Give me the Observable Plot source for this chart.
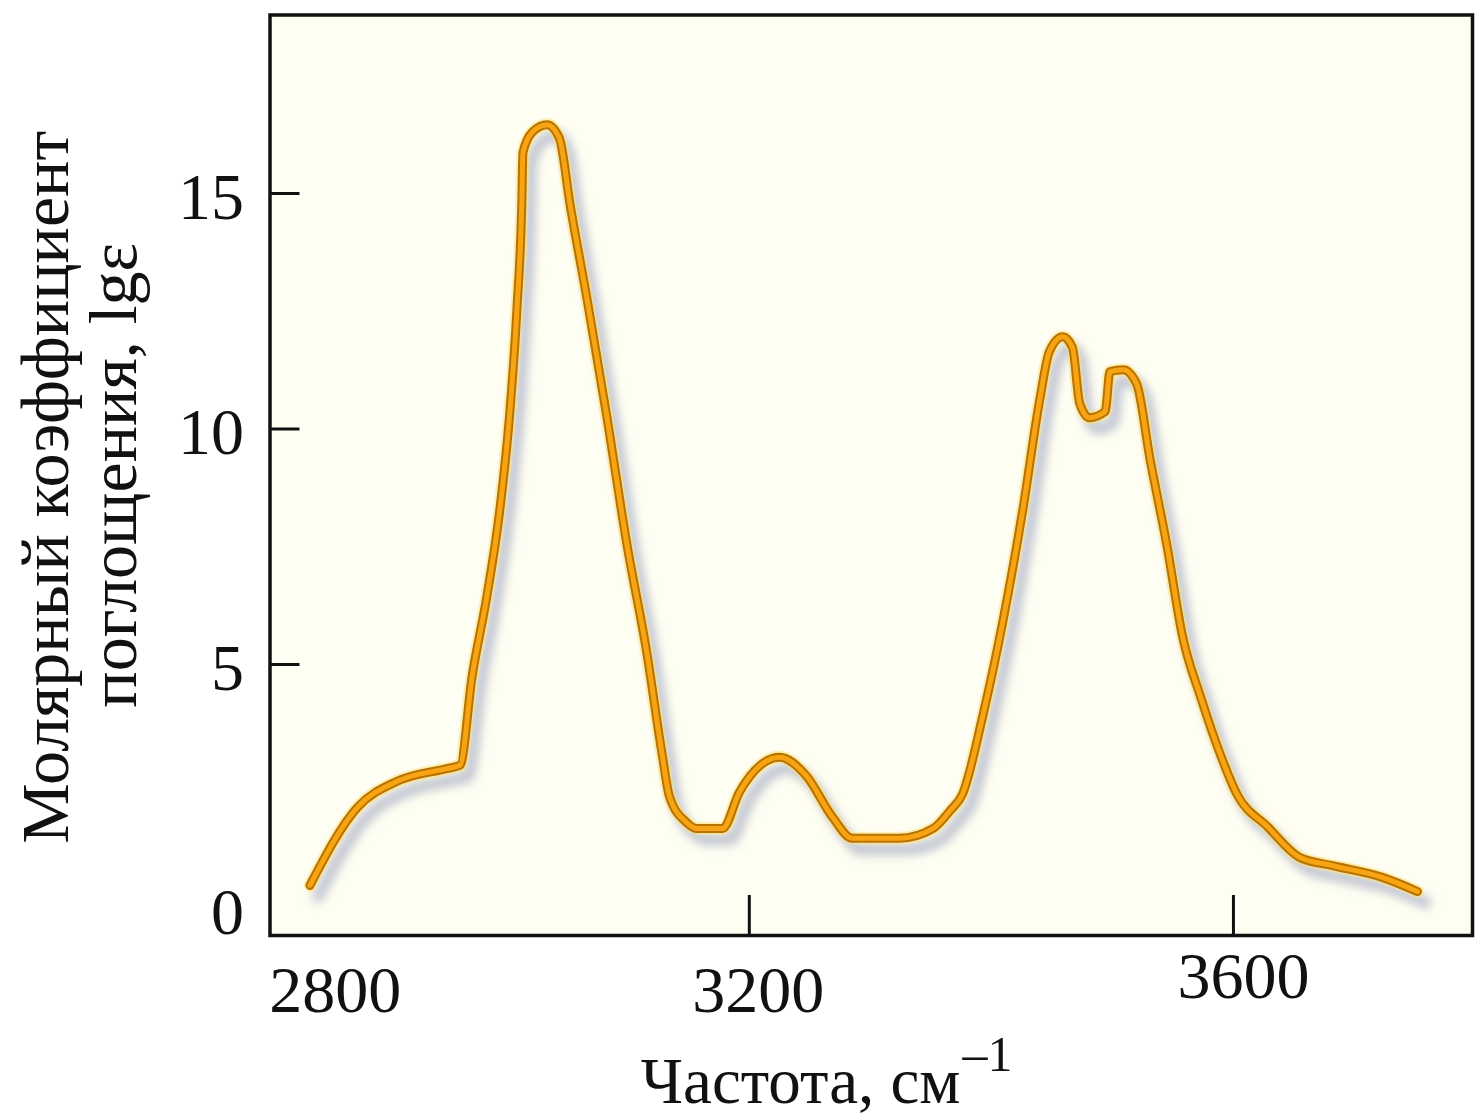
<!DOCTYPE html>
<html>
<head>
<meta charset="utf-8">
<script src="https://cdn.jsdelivr.net/npm/d3@7"></script>
<script src="https://cdn.jsdelivr.net/npm/@observablehq/plot@0.6"></script>
<style>
  html, body { margin: 0; padding: 0; background: #ffffff; }
  #chart svg { display: block; }
</style>
</head>
<body>
<div id="chart"></div>
<script>
// ---- data ----
const wavenumber = [
  2837, 2876, 2909, 2950, 2961, 2971, 2983, 2994, 3002, 3008,
  3012, 3013, 3021, 3033, 3043, 3052, 3066, 3082, 3099, 3115,
  3128, 3134, 3148, 3156, 3178, 3192, 3225, 3247, 3269, 3285,
  3324, 3352, 3366, 3376, 3393, 3409, 3426, 3440, 3448, 3459,
  3467, 3473, 3481, 3494, 3498, 3509, 3520, 3531, 3545, 3558,
  3573, 3589, 3603, 3628, 3655, 3682, 3723, 3752
];
const absorbance = [
  0.31, 1.96, 2.52, 2.79, 2.86, 4.75, 6.42, 8.31, 10.31, 12.54,
  14.75, 15.87, 16.31, 16.46, 16.18, 14.75, 12.75, 10.31, 7.53, 5.30,
  3.09, 2.20, 1.65, 1.52, 1.52, 2.30, 3.03, 2.64, 1.75, 1.31,
  1.31, 1.52, 1.90, 2.24, 3.92, 5.85, 8.29, 10.63, 11.65, 11.96,
  11.73, 10.54, 10.24, 10.37, 11.22, 11.26, 10.96, 9.37, 7.53, 5.59,
  4.30, 3.10, 2.24, 1.56, 0.90, 0.73, 0.48, 0.18
];
const xTicks = [2800, 3200, 3600];
const yTicks = [0, 5, 10, 15];
const xLabel = "Частота, см";
const xLabelSup = "–1";
const yLabelLine1 = "Молярный коэффициент";
const yLabelLine2 = "поглощения, lgε";

// ---- chart ----
const data = wavenumber.map((x, i) => ({x, y: absorbance[i]}));
const W = 1484, H = 1120;
const mL = 269.5, mT = 14.5, mR = 12, mB = 185;
const innerW = W - mL - mR, innerH = H - mT - mB;
const font = "'Liberation Serif', 'Times New Roman', serif";
const curve = "monotone-x";
const tickFont = 66;

const marks = [
  Plot.frame({fill: "#fffef2"}),
  // soft shadow
  Plot.line(data, {x: "x", y: "y", curve, stroke: "#9aa2bc", strokeWidth: 12, strokeOpacity: 0.6, dx: 8, dy: 11}),
  // glow, rim, core
  Plot.line(data, {x: "x", y: "y", curve, stroke: "#ffe27a", strokeWidth: 13, strokeOpacity: 0.55}),
  Plot.line(data, {x: "x", y: "y", curve, stroke: "#b87200", strokeWidth: 9}),
  Plot.line(data, {x: "x", y: "y", curve, stroke: "#f7a414", strokeWidth: 5}),
  // inward tick lines
  Plot.tickY(yTicks.filter(d => d > 0), {y: d => d, insetRight: innerW - 30, stroke: "#111", strokeWidth: 3}),
  Plot.tickX(xTicks.filter(d => d > 2800), {x: d => d, insetTop: innerH - 40, stroke: "#111", strokeWidth: 3}),
  // y tick labels
  Plot.text(yTicks.filter(d => d > 0), {y: d => d, text: d => String(d), frameAnchor: "left", textAnchor: "end", lineAnchor: "middle", dx: -26, dy: 4, fontSize: tickFont, fill: "#111"}),
  Plot.text(yTicks.filter(d => d === 0), {y: d => d, text: d => String(d), frameAnchor: "left", textAnchor: "end", lineAnchor: "middle", dx: -26, dy: 13, fontSize: tickFont, fill: "#111"}),
  // x tick labels
  Plot.text(xTicks.filter(d => d === 2800), {x: d => d, text: d => String(d), frameAnchor: "bottom", textAnchor: "start", lineAnchor: "middle", dx: 4, dy: 55, fontSize: tickFont, fill: "#111"}),
  Plot.text(xTicks.filter(d => d === 3200), {x: d => d, text: d => String(d), frameAnchor: "bottom", textAnchor: "middle", lineAnchor: "middle", dx: 9, dy: 55, fontSize: tickFont, fill: "#111"}),
  Plot.text(xTicks.filter(d => d === 3600), {x: d => d, text: d => String(d), frameAnchor: "bottom", textAnchor: "middle", lineAnchor: "middle", dx: 10, dy: 41, fontSize: tickFont, fill: "#111"}),
  // x axis title with superscript
  Plot.text([xLabel], {text: d => d, frameAnchor: "bottom", textAnchor: "end", lineAnchor: "bottom", dx: 960 - (mL + innerW / 2), dy: 1102 - (H - mB), fontSize: 65, fill: "#111"}),
  Plot.text([xLabelSup], {text: d => d, frameAnchor: "bottom", textAnchor: "start", lineAnchor: "bottom", dx: 962 - (mL + innerW / 2), dy: 1070 - (H - mB), fontSize: 50, fill: "#111"}),
  // y axis title (two lines)
  Plot.text([yLabelLine1], {text: d => d, frameAnchor: "left", rotate: -90, textAnchor: "middle", lineAnchor: "bottom", dx: 67 - mL, dy: 12, fontSize: 68, fill: "#111"}),
  Plot.text([yLabelLine2], {text: d => d, frameAnchor: "left", rotate: -90, textAnchor: "middle", lineAnchor: "bottom", dx: 135 - mL, dy: 0, fontSize: 68, fill: "#111"}),
  // frame outline on top
  Plot.frame({stroke: "#111", strokeWidth: 3.5})
];

const chart = Plot.plot({
  width: W,
  height: H,
  marginLeft: mL,
  marginTop: mT,
  marginRight: mR,
  marginBottom: mB,
  style: {fontFamily: font, background: "#ffffff", overflow: "visible"},
  x: {domain: [2804, 3797.5], axis: null},
  y: {domain: [-0.754, 18.79], axis: null},
  marks
});

// blur the shadow line
const lines = chart.querySelectorAll('g[aria-label="line"]');
if (lines.length) lines[0].style.filter = "blur(5px)";

document.getElementById("chart").appendChild(chart);
</script>
</body>
</html>
